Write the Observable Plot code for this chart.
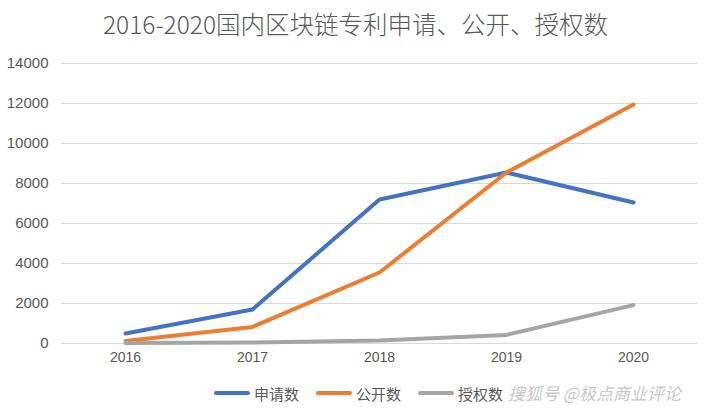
<!DOCTYPE html>
<html><head><meta charset="utf-8">
<script src="https://cdn.jsdelivr.net/npm/d3@7"></script>
<script src="https://cdn.jsdelivr.net/npm/@observablehq/plot@0.6"></script>
<style>
body{margin:0;background:#fff;font-family:"Liberation Sans","Noto Sans CJK SC",sans-serif;}
#wrap{width:711px;height:413px;position:relative;}
#title{height:45px;line-height:48px;text-align:center;font-family:"Noto Sans CJK SC",sans-serif;font-size:24.5px;font-weight:300;color:#595959;}
#legend{position:absolute;top:380px;left:0;width:711px;height:26px;font-family:"Noto Sans CJK SC",sans-serif;font-size:15px;color:#595959;}
.item{position:absolute;top:0;display:flex;align-items:center;height:26px;}
.sw{width:36px;height:4px;border-radius:2px;margin-right:4px;}
#wm{position:absolute;left:508px;top:0;height:26px;line-height:26px;font-size:17px;color:#c8c8c8;font-style:italic;}
</style></head>
<body><div id="wrap"><div id="title">2016-2020国内区块链专利申请、公开、授权数</div><div id="chart"></div>
<div id="legend"></div></div>
<script>
const years = ["2016","2017","2018","2019","2020"];
const seriesNames = ["申请数","公开数","授权数"];
const applied = [500, 1700, 7200, 8550, 7050];
const published = [130, 830, 3550, 8550, 11950];
const granted = [20, 50, 150, 430, 1920];
const colors = ["#4472c4","#ed7d31","#a5a5a5"];
const yTicks = [0,2000,4000,6000,8000,10000,12000,14000];

const rows = [];
[applied, published, granted].forEach((vals, s) => vals.forEach((v, i) => rows.push({year: years[i], value: v, series: seriesNames[s]})));

const chart = Plot.plot({
  width: 711, height: 325,
  marginLeft: 61, marginRight: 14, marginTop: 18, marginBottom: 27,
  style: {fontFamily: "Liberation Sans, sans-serif", fontSize: "15px", color: "#595959", background: "#fff"},
  x: {type: "point", domain: years, padding: 0.5, label: null, tickSize: 0, tickPadding: 10},
  y: {domain: [0, 14000], ticks: yTicks, label: null, tickSize: 0, tickPadding: 13},
  color: {domain: seriesNames, range: colors},
  marks: [
    Plot.gridY(yTicks, {stroke: "#d9d9d9", strokeOpacity: 1, strokeWidth: 1}),
    Plot.axisY({ticks: yTicks, tickFormat: d3.format("d"), tickSize: 0, tickPadding: 13, fontSize: 15}),
    Plot.axisX({tickSize: 0, tickPadding: 9, fontSize: 14}),
    Plot.line(rows, {x: "year", y: "value", z: "series", stroke: "series", strokeWidth: 4, strokeLinecap: "round", strokeLinejoin: "round"})
  ]
});
document.getElementById("chart").appendChild(chart);

const leg = document.getElementById("legend");
const lefts = [214, 316, 418];
seriesNames.forEach((n, i) => {
  const d = document.createElement("div");
  d.className = "item"; d.style.left = lefts[i] + "px";
  d.innerHTML = `<div class="sw" style="background:${colors[i]}"></div><span>${n}</span>`;
  leg.appendChild(d);
});
const wm = document.createElement("div");
wm.id = "wm"; wm.textContent = "搜狐号 @极点商业评论";
leg.appendChild(wm);
</script></body></html>
